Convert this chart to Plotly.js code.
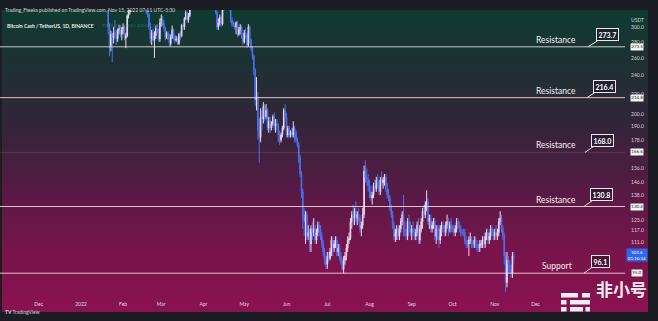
<!DOCTYPE html>
<html>
<head>
<meta charset="utf-8">
<script src="https://cdn.plot.ly/plotly-3.0.1.min.js"></script>
<style>
  html,body{margin:0;padding:0;background:#1c1d24;overflow:hidden;}
  #bg{position:absolute;left:2px;top:10px;width:646px;height:302px;
      background:linear-gradient(to bottom,#0f3b31 0%,#1c3232 16%,#332539 38%,#571a45 60%,#78144b 80%,#8a1250 100%);}
  #chart{position:absolute;left:0;top:0;width:658px;height:321px;}
</style>
</head>
<body>
<div id="bg"></div>
<div id="chart"></div>
<script>
// ---- Data: BCH/USDT daily candles, 2022-01-17 .. 2022-11-15 ----
const startDate = '2022-01-17';
const opens = [
  400,390,380,368,352,300,275,290,285,292,288,284,295,298,290,
  296,300,285,288,316,322,335,345,340,348,336,332,334,330,338,348,340,330,322,318,300,284,292,282,288,298,294,284,
  306,312,306,298,286,292,284,278,286,296,286,282,284,278,290,288,302,300,312,320,310,316,336,346,364,360,366,386,396,394,388,
  372,384,380,390,386,370,340,346,330,336,322,300,306,314,304,326,332,328,336,342,328,310,304,302,300,306,290,296,300,288,
  280,292,290,276,300,282,272,262,246,214,216,186,180,198,196,208,198,204,188,194,188,192,198,190,192,190,182,178,182,188,204,
  198,182,188,182,184,182,188,184,178,174,164,152,140,124,122,126,114,116,110,118,116,118,112,116,120,118,114,110,106,102,
  100,104,103,106,112,108,110,112,106,108,104,101,98,102,104,108,112,113,122,126,124,128,124,126,124,118,120,126,154,150,148,
  144,140,136,138,144,142,148,146,140,148,146,148,150,142,138,136,130,126,120,114,116,118,114,118,122,126,118,116,114,122,118,
  116,118,116,114,116,120,112,118,122,128,126,132,134,122,124,118,120,122,114,118,114,112,118,120,118,116,120,122,118,120,
  118,118,116,118,122,120,118,116,116,116,112,110,110,112,112,110,110,112,110,108,108,110,110,112,110,114,116,112,114,118,116,
  114,116,114,116,122,124,118,114,104,92,102,100,98,96,104
];
const highs = [
  405,392,385,385,355,305,295,292,300,310,296,298,303,302,300,
  305,302,292,318,328,340,352,350,352,360,342,338,338,340,352,350,344,334,328,320,306,296,298,294,302,304,298,312,
  318,316,310,300,294,294,290,290,302,298,290,288,286,292,294,304,306,314,324,322,320,340,350,368,372,370,390,410,404,398,392,
  388,392,396,392,390,372,350,350,340,338,324,312,318,316,330,336,338,340,346,348,332,314,308,306,308,308,300,304,302,292,
  296,298,292,304,302,284,274,264,248,238,222,196,206,204,212,210,210,206,198,198,194,200,202,196,196,192,186,184,190,206,210,
  202,190,190,186,188,194,190,186,180,176,166,154,142,130,128,128,120,118,120,122,124,120,118,122,122,120,116,112,108,104,
  106,106,108,114,114,112,114,114,110,110,106,103,104,106,110,114,116,124,128,132,130,134,128,130,126,122,130,158,162,156,152,
  148,144,140,146,148,150,152,148,150,154,150,152,152,146,142,138,132,128,122,118,120,120,120,124,128,138,122,118,124,126,122,
  120,122,118,118,122,124,120,124,130,132,134,141,136,126,126,122,124,124,120,120,120,120,122,122,120,122,126,124,122,124,
  120,120,120,124,124,122,120,118,118,118,114,112,114,116,114,112,114,114,112,110,112,112,114,114,116,118,118,116,120,120,118,
  118,120,118,124,128,126,120,116,106,106,104,102,100,106,106
];
const lows = [
  385,375,365,350,290,262,268,255,278,283,276,280,290,286,282,
  290,282,272,286,312,318,330,332,336,330,328,328,326,327,334,336,326,318,314,296,278,276,280,260,284,290,280,280,
  300,302,294,282,284,282,274,275,284,282,278,280,276,276,282,286,296,296,310,306,306,314,330,342,352,356,362,380,388,380,368,
  362,376,376,372,366,336,334,326,328,318,296,296,302,300,302,324,326,326,332,324,306,300,300,296,290,286,288,290,284,276,
  278,284,272,274,278,268,258,240,208,204,178,160,176,186,192,194,196,186,184,184,186,190,186,184,186,176,174,176,180,186,194,
  180,180,180,180,180,180,176,176,172,160,150,136,118,114,110,112,112,106,106,112,114,110,110,114,114,112,108,104,100,98,
  98,101,102,104,104,106,108,104,104,102,100,97,96,100,102,106,110,112,118,120,120,122,120,122,116,114,118,124,146,144,140,
  136,134,132,136,140,140,142,138,138,144,142,144,140,136,134,128,124,118,112,111,112,112,112,116,120,114,114,112,112,116,114,
  112,114,112,112,114,110,110,116,118,124,124,128,120,118,116,116,118,112,110,112,108,110,114,116,114,114,118,114,116,116,
  116,114,114,116,118,116,114,114,114,110,108,108,104,110,108,108,108,108,106,106,106,108,108,108,108,112,110,110,112,114,112,
  112,112,112,114,120,116,112,100,88,90,96,96,94,94,100
];
const closes = [
  390,380,368,352,300,275,290,285,292,288,284,295,298,290,296,
  300,285,288,316,322,335,345,340,348,336,332,334,330,338,348,340,330,322,318,300,284,292,282,288,298,294,284,306,
  312,306,298,286,292,284,278,286,296,286,282,284,278,290,288,302,300,312,320,310,316,336,346,364,360,366,386,396,394,388,372,
  384,380,390,386,370,340,346,330,336,322,300,306,314,304,326,332,328,336,342,328,310,304,302,300,306,290,296,300,288,280,
  292,290,276,300,282,272,262,246,214,216,186,180,198,196,208,198,204,188,194,188,192,198,190,192,190,182,178,182,188,204,198,
  182,188,182,184,182,188,184,178,174,164,152,140,124,122,126,114,116,110,118,116,118,112,116,120,118,114,110,106,102,100,
  104,103,106,112,108,110,112,106,108,104,101,98,102,104,108,112,113,122,126,124,128,124,126,124,118,120,126,154,150,148,144,
  140,136,138,144,142,148,146,140,148,146,148,150,142,138,136,130,126,120,114,116,118,114,118,122,126,118,116,114,122,118,116,
  118,116,114,116,120,112,118,122,128,126,132,134,122,124,118,120,122,114,118,114,112,118,120,118,116,120,122,118,120,118,
  118,116,118,122,120,118,116,116,116,112,110,110,112,112,110,110,112,110,108,108,110,110,112,110,114,116,112,114,118,116,114,
  116,114,116,122,124,118,114,104,92,102,100,98,96,104,103.6
];
// x-axis month ticks
const monthTicks = ['2021-12-01','2022-01-01','2022-02-01','2022-03-01','2022-04-01','2022-05-01','2022-06-01',
                    '2022-07-01','2022-08-01','2022-09-01','2022-10-01','2022-11-01','2022-12-01'];
const monthLabels = ['Dec','2022','Feb','Mar','Apr','May','Jun','Jul','Aug','Sep','Oct','Nov','Dec'];
// y-axis ticks
const priceTicks = [89,111,117,123,138,146,156,178,190,200,220,240,260,280,300];
const priceTickLabels = ['89.0','111.0','117.0','123.0','138.0','146.0','156.0','178.0','190.0','200.0','220.0','240.0','260.0','280.0','300.0'];
// support / resistance levels
const levelValues = [273.7, 216.4, 168.0, 130.8, 96.1];
const levelNames = ['Resistance','Resistance','Resistance','Resistance','Support'];
const levelAxisTags = ['273.5','214.8','166.6','130.4','95.0'];
const lastPrice = 103.6;

// ---- build dates ----
const dates = [];
{
  const d0 = new Date(startDate + 'T00:00:00Z');
  for (let i = 0; i < closes.length; i++) {
    const d = new Date(d0.getTime() + i * 86400000);
    dates.push(d.toISOString().slice(0, 10));
  }
}

// pixel helpers (plot area: x 0..625, y 10..300)
const PW = 625, PT = 10, PB = 300;
const px = x => x / PW;
const py = y => (PB - y) / (PB - PT);
const L = v => Math.log10(v); // annotation positions on a log axis

const FONT = 'Lato, "Open Sans", sans-serif';

const trace = {
  type: 'candlestick',
  x: dates, open: opens, high: highs, low: lows, close: closes,
  increasing: {line: {color: '#f3d6e6', width: 1}, fillcolor: '#f3d6e6'},
  decreasing: {line: {color: '#4a72ee', width: 1}, fillcolor: '#4a72ee'},
  whiskerwidth: 0,
  hoverinfo: 'skip',
  showlegend: false
};

const shapes = [];
const annotations = [];

// level lines, labels, callouts, axis tags
const calloutOffsets = [[19,-12],[17,-11],[17,-12],[17,-12],[16,-12]];
const tipX = [588, 587, 585, 584, 584];
levelValues.forEach((v, i) => {
  shapes.push({type: 'line', xref: 'paper', x0: 0, x1: 1, yref: 'y', y0: v, y1: v,
    line: {color: i === 2 ? 'rgba(255,235,245,0.12)' : 'rgba(255,235,245,0.8)', width: 1}});
  annotations.push({xref: 'paper', x: px(i === 4 ? 557 : 556), xanchor: 'center', yref: 'y', y: L(v), yshift: 7,
    showarrow: false, text: levelNames[i], font: {family: FONT, size: 8.5, color: '#f4eef2'}});
  annotations.push({xref: 'paper', x: px(tipX[i]), yref: 'y', y: L(v), showarrow: true,
    ax: calloutOffsets[i][0], ay: calloutOffsets[i][1], arrowhead: 0, arrowwidth: 1, arrowcolor: '#efe6ee',
    text: '<b>' + v.toFixed(1) + '</b>', font: {family: FONT, size: 7, color: '#ffffff'},
    bordercolor: '#efe6ee', borderwidth: 1, borderpad: 1.5, bgcolor: 'rgba(30,24,40,0.55)'});
  annotations.push({xref: 'paper', x: px(636.5), xanchor: 'center', yref: 'y', y: L(v), yshift: 0,
    showarrow: false, text: levelAxisTags[i], font: {family: FONT, size: 4.5, color: '#222'},
    bgcolor: '#f4f4f4', borderpad: 0.3});
});

// last price tag (blue)
annotations.push({xref: 'paper', x: px(637), xanchor: 'center', yref: 'y', y: L(lastPrice), yshift: 2, showarrow: false,
  text: lastPrice.toFixed(1) + '<br>01:16:14', font: {family: FONT, size: 4.5, color: '#ffffff'},
  bgcolor: '#2f66f0', borderpad: 0.8, align: 'center'});

// unit label
annotations.push({xref: 'paper', x: px(637), xanchor: 'center', yref: 'paper', y: py(15), showarrow: false,
  text: 'USDT', font: {family: FONT, size: 5, color: '#d8cfd6'}});

// header & legend
annotations.push({xref: 'paper', x: px(3), xanchor: 'left', yref: 'paper', y: py(5), showarrow: false,
  text: 'Trading_Fteeks published on TradingView.com, Nov 15, 2022 07:11 UTC-5:30',
  font: {family: FONT, size: 5, color: '#d6d6d6'}});
annotations.push({xref: 'paper', x: px(5), xanchor: 'left', yref: 'paper', y: py(21), showarrow: false,
  text: '<b>Bitcoin Cash / TetherUS, 1D, BINANCE</b>', font: {family: FONT, size: 5, color: '#e8eee8'}});
annotations.push({xref: 'paper', x: px(100), xanchor: 'left', yref: 'paper', y: py(21), showarrow: false,
  text: 'O104.0 H106.0 L100.0 C103.6', font: {family: FONT, size: 4.5, color: 'rgba(60,160,150,0.55)'}});

// footer
annotations.push({xref: 'paper', x: px(3), xanchor: 'left', yref: 'paper', y: py(317), showarrow: false,
  text: '<b>TV</b> TradingView', font: {family: FONT, size: 5, color: '#cfcfd4'}});

// watermark
annotations.push({xref: 'paper', x: px(621.5), xanchor: 'center', yref: 'paper', y: py(302.5), showarrow: false,
  text: '<b>非小号</b>', font: {family: '"Noto Sans CJK SC", sans-serif', size: 17, color: 'rgba(255,255,255,0.93)'}});
const wm = 'rgba(255,255,255,0.93)';
const rect = (x0, y0, x1, y1) => shapes.push({type: 'rect', xref: 'paper', yref: 'paper',
  x0: px(x0), x1: px(x1), y0: py(y1), y1: py(y0), fillcolor: wm, line: {width: 0}});
rect(561, 293, 578, 297.5); rect(582, 293, 590, 297.5);
rect(561, 300, 566.5, 304.5); rect(570, 300, 590, 304.5);
rect(561, 307, 566.5, 311.5); rect(570, 307, 583, 311.5); rect(585.5, 307, 590, 311.5);

const layout = {
  width: 658, height: 321,
  margin: {l: 0, r: 33, t: 10, b: 21, pad: 0},
  paper_bgcolor: 'rgba(0,0,0,0)', plot_bgcolor: 'rgba(0,0,0,0)',
  showlegend: false,
  font: {family: FONT},
  xaxis: {type: 'date', range: ['2021-11-02 13:00', '2023-02-04 17:00'],
    rangeslider: {visible: false}, showgrid: false, zeroline: false, showline: false,
    tickvals: monthTicks, ticktext: monthLabels, ticks: '',
    tickfont: {family: FONT, size: 5, color: '#e6d6e0'}, fixedrange: true},
  yaxis: {type: 'log', range: [Math.log10(84.9), Math.log10(324.5)], side: 'right',
    showgrid: false, zeroline: false, showline: false, ticks: '',
    tickvals: priceTicks, ticktext: priceTickLabels, ticklabelstandoff: 5,
    tickfont: {family: FONT, size: 5, color: '#ddd2da'}, fixedrange: true},
  shapes: shapes,
  annotations: annotations
};

Plotly.newPlot('chart', [trace], layout, {displayModeBar: false, staticPlot: true});
</script>
</body>
</html>
